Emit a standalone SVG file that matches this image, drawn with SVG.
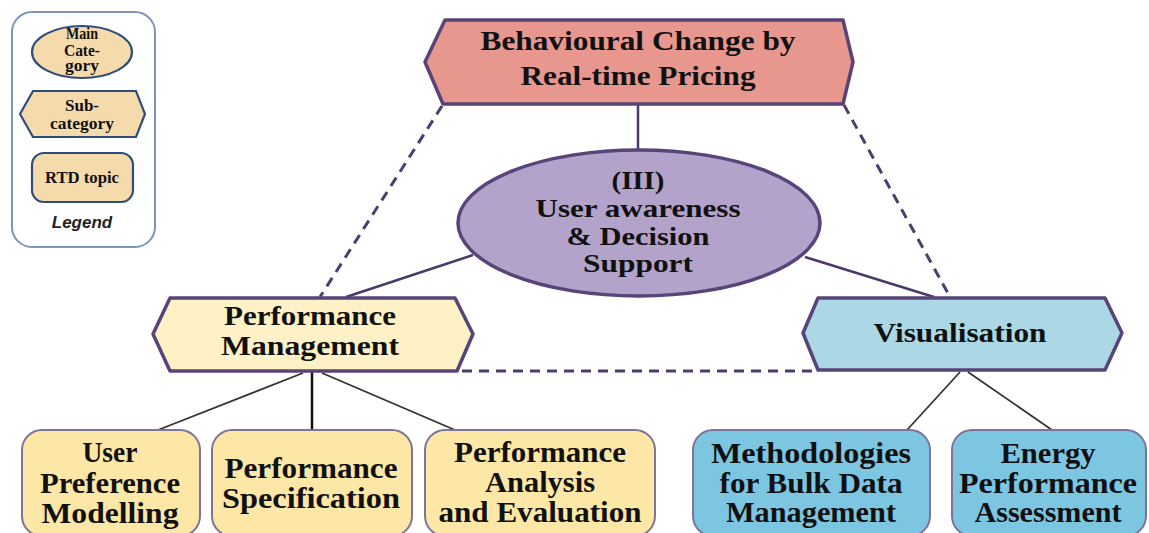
<svg xmlns="http://www.w3.org/2000/svg" width="1149" height="533" viewBox="0 0 1149 533">
<style>
text{font-family:"Liberation Serif","Times New Roman",serif;font-weight:bold;fill:#111;text-anchor:middle}
.big{font-size:28px}
.ell{font-size:26px}
.mid{font-size:29px}
.leg{font-size:16px}
.hexstroke{stroke:#574479;stroke-width:3.5;stroke-linejoin:round}
.box{stroke:#7f7398;stroke-width:2}
.legshape{fill:#f5dbab;stroke:#2f4d7c;stroke-width:2.2}
.solid{fill:none;stroke:#4a3a6c;stroke-width:2.5}
.thin{fill:none;stroke:#333;stroke-width:1.8}
.dash{fill:none;stroke:#4d3d70;stroke-width:3;stroke-dasharray:10 7}
</style>
<rect width="1149" height="533" fill="#fff"/>

<g id="legend">
<rect x="12" y="12" width="143" height="235" rx="20" fill="#fff" stroke="#7c96b4" stroke-width="2"/>
<ellipse class="legshape" cx="82" cy="52" rx="50" ry="26"/>
<text class="leg" x="82" y="39" textLength="32" lengthAdjust="spacingAndGlyphs">Main</text>
<text class="leg" x="82" y="56" textLength="36" lengthAdjust="spacingAndGlyphs">Cate-</text>
<text class="leg" x="82" y="71" textLength="34" lengthAdjust="spacingAndGlyphs">gory</text>
<polygon class="legshape" points="20,114 33,91 136,91 145,114 136,137 33,137"/>
<text class="leg" x="82" y="111" textLength="34" lengthAdjust="spacingAndGlyphs">Sub-</text>
<text class="leg" x="82" y="129" textLength="64" lengthAdjust="spacingAndGlyphs">category</text>
<rect class="legshape" x="32" y="153" width="101" height="49" rx="12"/>
<text class="leg" x="82" y="183" textLength="74" lengthAdjust="spacingAndGlyphs">RTD topic</text>
<text x="82" y="228" style="font-family:'Liberation Sans',Arial,sans-serif;font-style:italic;font-size:17px;fill:#222">Legend</text>
</g>

<g id="connectors">
<line class="solid" x1="638" y1="104" x2="638" y2="151"/>
<line class="dash" x1="442" y1="106" x2="320" y2="297"/>
<line class="dash" x1="844" y1="105" x2="950" y2="297"/>
<line class="dash" x1="462" y1="371" x2="816" y2="371"/>
<line class="solid" x1="473" y1="255" x2="346" y2="297"/>
<line class="solid" x1="805" y1="257" x2="934" y2="297"/>
<line class="thin" x1="303" y1="373" x2="158" y2="430"/>
<line x1="312" y1="372" x2="312" y2="430" stroke="#111" stroke-width="2.5"/>
<line class="thin" x1="322" y1="373" x2="455" y2="430"/>
<line class="thin" x1="960" y1="372" x2="907" y2="430"/>
<line class="thin" x1="968" y1="372" x2="1052" y2="430"/>
</g>

<g id="top">
<polygon class="hexstroke" fill="#e8978e" points="425,62 445,20 843,20 853,62 843,104 443,104"/>
<text class="big" x="638" y="50" textLength="315" lengthAdjust="spacingAndGlyphs">Behavioural Change by</text>
<text class="big" x="638" y="85" textLength="235" lengthAdjust="spacingAndGlyphs">Real-time Pricing</text>
</g>

<g id="main">
<ellipse class="hexstroke" fill="#b3a3cb" cx="639" cy="223" rx="181" ry="73"/>
<text class="ell" x="638" y="189" textLength="53" lengthAdjust="spacingAndGlyphs">(III)</text>
<text class="ell" x="638" y="217" textLength="205" lengthAdjust="spacingAndGlyphs">User awareness</text>
<text class="ell" x="638" y="245" textLength="143" lengthAdjust="spacingAndGlyphs">&amp; Decision</text>
<text class="ell" x="638" y="272" textLength="110" lengthAdjust="spacingAndGlyphs">Support</text>
</g>

<g id="perfmgmt">
<polygon class="hexstroke" fill="#fdf1c5" points="153,334 170,298 455,298 473,334 457,371 170,371"/>
<text class="big" x="310" y="325" textLength="172" lengthAdjust="spacingAndGlyphs">Performance</text>
<text class="big" x="310" y="355" textLength="178" lengthAdjust="spacingAndGlyphs">Management</text>
</g>

<g id="visualisation">
<polygon class="hexstroke" fill="#acd8e6" points="803,333 818,298 1105,298 1122,333 1105,370 818,370"/>
<text class="big" x="960" y="342" textLength="173" lengthAdjust="spacingAndGlyphs">Visualisation</text>
</g>

<g id="userpref">
<rect class="box" x="22" y="430" width="178" height="106" rx="20" fill="#fde7a6"/>
<text class="mid" x="110" y="462" textLength="55" lengthAdjust="spacingAndGlyphs">User</text>
<text class="mid" x="110" y="493" textLength="140" lengthAdjust="spacingAndGlyphs">Preference</text>
<text class="mid" x="110" y="523" textLength="137" lengthAdjust="spacingAndGlyphs">Modelling</text>
</g>

<g id="perfspec">
<rect class="box" x="212" y="430" width="200" height="106" rx="20" fill="#fde7a6"/>
<text class="mid" x="311" y="478" textLength="173" lengthAdjust="spacingAndGlyphs">Performance</text>
<text class="mid" x="311" y="508" textLength="178" lengthAdjust="spacingAndGlyphs">Specification</text>
</g>

<g id="perfanalysis">
<rect class="box" x="425" y="430" width="230" height="106" rx="20" fill="#fde7a6"/>
<text class="mid" x="540" y="462" textLength="172" lengthAdjust="spacingAndGlyphs">Performance</text>
<text class="mid" x="540" y="492" textLength="110" lengthAdjust="spacingAndGlyphs">Analysis</text>
<text class="mid" x="540" y="522" textLength="203" lengthAdjust="spacingAndGlyphs">and Evaluation</text>
</g>

<g id="bulkdata">
<rect class="box" x="693" y="430" width="237" height="106" rx="20" fill="#7cc6e2"/>
<text class="mid" x="811" y="463" textLength="200" lengthAdjust="spacingAndGlyphs">Methodologies</text>
<text class="mid" x="811" y="493" textLength="183" lengthAdjust="spacingAndGlyphs">for Bulk Data</text>
<text class="mid" x="811" y="522" textLength="170" lengthAdjust="spacingAndGlyphs">Management</text>
</g>

<g id="energyperf">
<rect class="box" x="952" y="430" width="194" height="106" rx="20" fill="#7cc6e2"/>
<text class="mid" x="1048" y="463" textLength="95" lengthAdjust="spacingAndGlyphs">Energy</text>
<text class="mid" x="1048" y="493" textLength="178" lengthAdjust="spacingAndGlyphs">Performance</text>
<text class="mid" x="1048" y="522" textLength="147" lengthAdjust="spacingAndGlyphs">Assessment</text>
</g>
</svg>
